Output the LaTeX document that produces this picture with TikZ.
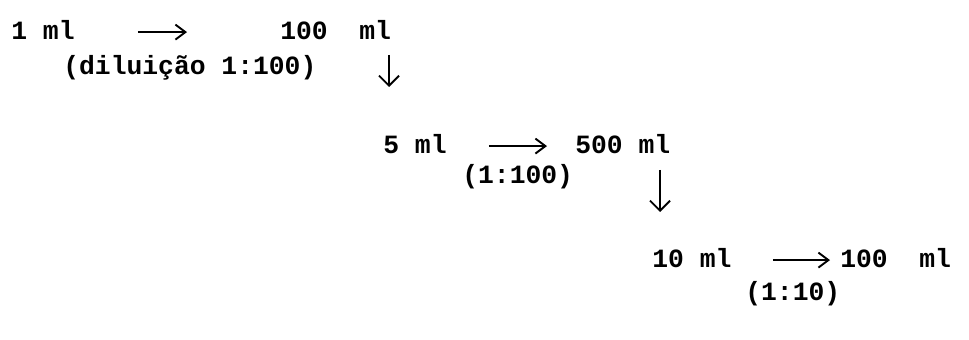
\documentclass[tikz,border=0pt]{standalone}
\usepackage{fontspec}
\setmonofont{Liberation Mono}
\usetikzlibrary{arrows.meta,calc}

\begin{document}
\begin{tikzpicture}[x=0.02cm,y=-0.02cm,
        txt/.style={font=\ttfamily\bfseries\fontsize{15}{18}\selectfont, inner sep=0pt,
            text height=9pt, text depth=0pt, anchor=base west},
        harrow/.style={draw, line width=1.1pt, -{Straight Barb[length=2mm,width=3mm]}},
        varrow/.style={draw, line width=1.1pt, -{Straight Barb[length=2mm,width=4mm]}}]
        \useasboundingbox (0,0) rectangle (969,340);
        % first step
        \node[txt](one)at(11,40){1 ml};
        \node[txt](hundredA)at(280,40){100\ \ ml};
        \node[txt](dilA)at(63,75){(diluição 1:100)};
        \path[harrow, shorten <=1.26cm, shorten >=1.86cm](one.east)to(hundredA.west);
        \coordinate(d1a)at(389,55);
        \coordinate(d1b)at(389,87);
        \path[varrow](d1a)to(d1b);
        % second step
        \node[txt](five)at(383,154){5 ml};
        \node[txt](fivehundred)at(575,154){500 ml};
        \node[txt](dilB)at(462,184){(1:100)};
        \path[harrow, shorten <=0.84cm, shorten >=0.56cm](five.east)to(fivehundred.west);
        \coordinate(d2a)at(660,170);
        \coordinate(d2b)at(660,212);
        \path[varrow](d2a)to(d2b);
        % third step
        \node[txt](ten)at(652,268){10 ml};
        \node[txt](hundredB)at(840,268){100\ \ ml};
        \node[txt](dilC)at(745,301){(1:10)};
        \path[harrow, shorten <=0.82cm, shorten >=0.2cm](ten.east)to(hundredB.west);
\end{tikzpicture}
\end{document}
